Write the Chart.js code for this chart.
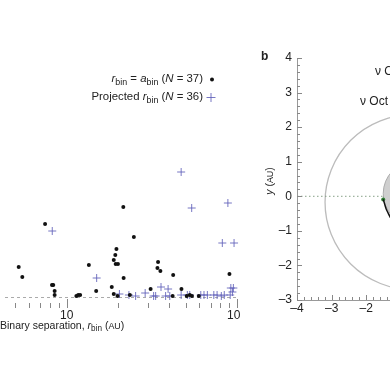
<!DOCTYPE html>
<html>
<head>
<meta charset="utf-8">
<script src="https://cdn.jsdelivr.net/npm/chart.js@4.4.1/dist/chart.umd.min.js"></script>
<style>
  html, body { margin: 0; padding: 0; background: #fff; }
  body { width: 390px; height: 390px; position: relative; overflow: hidden;
         font-family: "Liberation Sans", Arial, Helvetica, sans-serif; color: #222; }
  .panel { position: absolute; top: 0; height: 390px; overflow: hidden; }
  #left { left: 0; width: 240px; }
  #right { left: 240px; width: 150px; }
  .txt { position: absolute; white-space: nowrap; }
  sub { font-size: 0.78em; vertical-align: -0.3em; line-height: 0; }
  .sc { font-size: 0.85em; }
</style>
</head>
<body>
<div id="left" class="panel">
  <canvas id="sepChart" width="260" height="390"></canvas>
  <div class="txt" style="right:37px; top:69px; font-size:11.4px; line-height:18px; text-align:right;">
    <i>r</i><sub>bin</sub> = <i>a</i><sub>bin</sub> (<i>N</i> = 37)<br>
    Projected <i>r</i><sub>bin</sub> (<i>N</i> = 36)
  </div>
  <div class="txt" style="left:0; top:319px; font-size:10.5px; line-height:12px;">Binary separation, <i>r</i><sub>bin</sub> (<span class="sc">AU</span>)</div>
</div>
<div id="right" class="panel">
  <canvas id="orbitChart" width="400" height="390"></canvas>
  <div class="txt" style="left:21px; top:50px; font-size:12px; line-height:12px; font-weight:bold;">b</div>
  <div class="txt" style="left:29px; top:181px; font-size:10.5px; transform:translate(-50%,-50%) rotate(-90deg);"><i>y</i> (<span class="sc">AU</span>)</div>
  <div class="txt" style="left:135px; top:64px; font-size:12px; line-height:14px;">ν Oct B</div>
  <div class="txt" style="left:120px; top:94px; font-size:12px; line-height:14px;">ν Oct Ab</div>
</div>
<script>
const FONT = '"Liberation Sans", Arial, Helvetica, sans-serif';

// panel a: binary separation (AU) vs. quantity on y
const dotSep = [5.23, 5.49, 7.47, 8.20, 8.34, 8.50, 8.50, 11.4, 11.7, 12.0, 13.5, 14.9,
                18.4, 18.9, 19.9, 18.9, 19.3, 19.6, 19.4, 20.0, 21.5, 21.6, 24.8, 23.5,
                31.1, 34.4, 34.1, 35.5, 42.2, 41.9, 47.2, 50.7, 52.8, 54.4, 59.7, 90.3];
const dotY   = [4.1, 3.1, 8.4, 2.3, 2.3, 1.7, 1.3, 1.2, 1.3, 1.3, 4.3, 1.7,
                2.1, 1.4, 1.2, 4.8, 5.3, 5.9, 4.4, 4.4, 10.1, 3.0, 7.1, 1.3,
                1.9, 4.6, 4.0, 3.7, 3.3, 1.2, 1.9, 1.2, 1.3, 1.2, 1.2, 3.4];
const crossSep = [47.0, 54.2, 88.4, 8.23, 82.0, 96.1, 15.0, 20.4, 23.2, 25.4, 28.9,
                  32.4, 33.3, 35.8, 38.1, 39.4, 40.3, 47.0, 51.1, 52.8, 61.3, 64.0,
                  67.0, 73.1, 76.4, 80.9, 84.2, 92.0, 95.2, 94.0, 91.2];
const crossY   = [13.6, 10.0, 10.5, 7.7, 6.5, 6.5, 3.0, 1.4, 1.3, 1.2, 1.5,
                  1.2, 1.2, 2.1, 1.2, 1.9, 1.2, 1.3, 1.3, 1.3, 1.3, 1.3,
                  1.3, 1.3, 1.3, 1.2, 1.3, 2.0, 2.0, 1.6, 1.3];
const cutoffY = 1.1;
const sepLabelTicks = [10, 100];
const sepMinorTicks = [5, 6, 7, 8, 9, 20, 30, 40, 50, 60, 70, 80, 90];

// panel b: orbits (AU)
const orbitBCentre = [-0.66, -0.17];
const orbitBRadius = 2.53;
const planetZoneCentre = [-0.58, 0.08];
const planetZoneRadius = 0.93;
const arcX = [-1.51, -1.47, -1.43, -1.37, -1.30];
const arcY = [-0.09, -0.22, -0.35, -0.48, -0.62];
const starX = [-1.51];
const starY = [-0.09];
const nodeLineX = [-4, -1.51];
const nodeLineY = [0, 0];

const crossColor = 'rgba(95, 95, 185, 0.85)';

const sepDecor = {
  id: 'sepDecor',
  beforeDatasetsDraw(chart) {
    const { ctx, chartArea: a, scales: { y } } = chart;
    ctx.save();
    ctx.strokeStyle = '#aaa';
    ctx.lineWidth = 1;
    ctx.setLineDash([3, 3]);
    const yy = Math.round(y.getPixelForValue(cutoffY)) + 0.5;
    ctx.beginPath(); ctx.moveTo(a.left, yy); ctx.lineTo(a.right, yy); ctx.stroke();
    ctx.restore();
  },
  afterDraw(chart) {
    const { ctx, chartArea: a, scales: { x } } = chart;
    ctx.save();
    ctx.strokeStyle = '#888';
    ctx.lineWidth = 1;
    sepMinorTicks.forEach(v => {
      const px = Math.round(x.getPixelForValue(v)) + 0.5;
      ctx.beginPath(); ctx.moveTo(px, a.bottom); ctx.lineTo(px, a.bottom - 5); ctx.stroke();
    });
    sepLabelTicks.forEach(v => {
      const px = Math.round(x.getPixelForValue(v)) + 0.5;
      ctx.beginPath(); ctx.moveTo(px, a.bottom); ctx.lineTo(px, a.bottom - 9); ctx.stroke();
    });
    // legend marks
    ctx.fillStyle = '#111';
    ctx.beginPath(); ctx.arc(212, 79.5, 2, 0, Math.PI * 2); ctx.fill();
    ctx.strokeStyle = crossColor;
    ctx.beginPath();
    ctx.moveTo(206.5, 97.5); ctx.lineTo(215.5, 97.5);
    ctx.moveTo(211, 93); ctx.lineTo(211, 102);
    ctx.stroke();
    ctx.restore();
  }
};

new Chart(document.getElementById('sepChart'), {
  type: 'scatter',
  data: {
    datasets: [
      {
        label: 'r_bin = a_bin',
        data: dotSep.map((s, i) => ({ x: s, y: dotY[i] })),
        pointStyle: 'circle',
        pointRadius: 2,
        backgroundColor: '#111',
        borderWidth: 0,
        clip: 6
      },
      {
        label: 'Projected r_bin',
        data: crossSep.map((s, i) => ({ x: s, y: crossY[i] })),
        pointStyle: 'cross',
        pointRadius: 4,
        borderColor: crossColor,
        borderWidth: 1,
        clip: 6
      }
    ]
  },
  options: {
    responsive: false,
    animation: false,
    layout: { padding: { left: 0, top: 58, right: 23, bottom: 0 } },
    plugins: { legend: { display: false }, tooltip: { enabled: false } },
    scales: {
      x: {
        type: 'logarithmic',
        min: 4.345,
        max: 100,
        grid: { display: false, drawTicks: false },
        border: { display: false },
        afterBuildTicks: s => { s.ticks = sepLabelTicks.map(v => ({ value: v })); },
        afterFit: s => { s.height = 82; },
        ticks: {
          padding: 0, autoSkip: false, maxRotation: 0, color: '#222',
          font: { family: FONT, size: 12 },
          callback: v => String(v)
        }
      },
      y: { display: false, min: 0, max: 25 }
    }
  },
  plugins: [sepDecor]
});

const orbitDecor = {
  id: 'orbitDecor',
  beforeDatasetsDraw(chart) {
    const { ctx, chartArea: a, scales: { x, y } } = chart;
    const ell = (c, r) => {
      const cx = x.getPixelForValue(c[0]);
      const cy = y.getPixelForValue(c[1]);
      const rx = Math.abs(x.getPixelForValue(c[0] + r) - cx);
      const ry = Math.abs(y.getPixelForValue(c[1] + r) - cy);
      ctx.beginPath();
      ctx.ellipse(cx, cy, rx, ry, 0, 0, Math.PI * 2);
    };
    ctx.save();
    ctx.beginPath(); ctx.rect(a.left, a.top, a.width, a.height); ctx.clip();
    ell(planetZoneCentre, planetZoneRadius);
    ctx.fillStyle = '#cfcfcf';
    ctx.fill();
    ctx.strokeStyle = '#aaa';
    ctx.lineWidth = 1;
    ctx.stroke();
    ell(orbitBCentre, orbitBRadius);
    ctx.strokeStyle = '#bcbcbc';
    ctx.lineWidth = 1.3;
    ctx.stroke();
    ctx.restore();
  },
  afterDraw(chart) {
    const { ctx, chartArea: a, scales: { x, y } } = chart;
    ctx.save();
    ctx.strokeStyle = '#888';
    ctx.lineWidth = 1;
    const yt = y.ticks.map(t => t.value);
    for (let i = 0; i < yt.length; i++) {
      const py = Math.round(y.getPixelForValue(yt[i])) + 0.5;
      ctx.beginPath(); ctx.moveTo(a.left, py); ctx.lineTo(a.left + 5, py); ctx.stroke();
      if (i < yt.length - 1) {
        for (let k = 1; k < 5; k++) {
          const p = Math.round(y.getPixelForValue(yt[i] + (yt[i + 1] - yt[i]) * k / 5)) + 0.5;
          ctx.beginPath(); ctx.moveTo(a.left, p); ctx.lineTo(a.left + 3, p); ctx.stroke();
        }
      }
    }
    const xt = x.ticks.map(t => t.value);
    for (let i = 0; i < xt.length; i++) {
      const px = Math.round(x.getPixelForValue(xt[i])) + 0.5;
      ctx.beginPath(); ctx.moveTo(px, a.bottom); ctx.lineTo(px, a.bottom - 5); ctx.stroke();
      if (i < xt.length - 1) {
        for (let k = 1; k < 5; k++) {
          const p = Math.round(x.getPixelForValue(xt[i] + (xt[i + 1] - xt[i]) * k / 5)) + 0.5;
          ctx.beginPath(); ctx.moveTo(p, a.bottom); ctx.lineTo(p, a.bottom - 3); ctx.stroke();
        }
      }
    }
    ctx.restore();
  }
};

const minus = v => String(v).replace('-', '\u2013');

new Chart(document.getElementById('orbitChart'), {
  type: 'scatter',
  data: {
    datasets: [
      {
        label: 'node line',
        data: nodeLineX.map((v, i) => ({ x: v, y: nodeLineY[i] })),
        showLine: true,
        borderColor: '#86a086',
        borderWidth: 1,
        borderDash: [1.5, 2.5],
        pointRadius: 0
      },
      {
        label: 'orbit',
        data: arcX.map((v, i) => ({ x: v, y: arcY[i] })),
        showLine: true,
        cubicInterpolationMode: 'monotone',
        borderColor: '#111',
        borderWidth: 1.5,
        pointRadius: 0
      },
      {
        label: 'star',
        data: starX.map((v, i) => ({ x: v, y: starY[i] })),
        pointRadius: 2,
        backgroundColor: '#2e7d32',
        borderWidth: 0
      }
    ]
  },
  options: {
    responsive: false,
    animation: false,
    layout: { padding: { left: 0, top: 58, right: 66, bottom: 0 } },
    plugins: { legend: { display: false }, tooltip: { enabled: false } },
    scales: {
      x: {
        type: 'linear', min: -4, max: 4,
        grid: { display: false, drawTicks: false },
        border: { display: true, color: '#999', width: 1 },
        afterFit: s => { s.height = 90; },
        ticks: { stepSize: 1, padding: 1, autoSkip: false, maxRotation: 0, color: '#222',
                 font: { family: FONT, size: 12 }, callback: minus }
      },
      y: {
        type: 'linear', min: -3, max: 4,
        grid: { display: false, drawTicks: false },
        border: { display: true, color: '#999', width: 1 },
        afterFit: s => { s.width = 57; },
        ticks: { stepSize: 1, padding: 5, color: '#222',
                 font: { family: FONT, size: 12 }, callback: minus }
      }
    }
  },
  plugins: [orbitDecor]
});
</script>
</body>
</html>
